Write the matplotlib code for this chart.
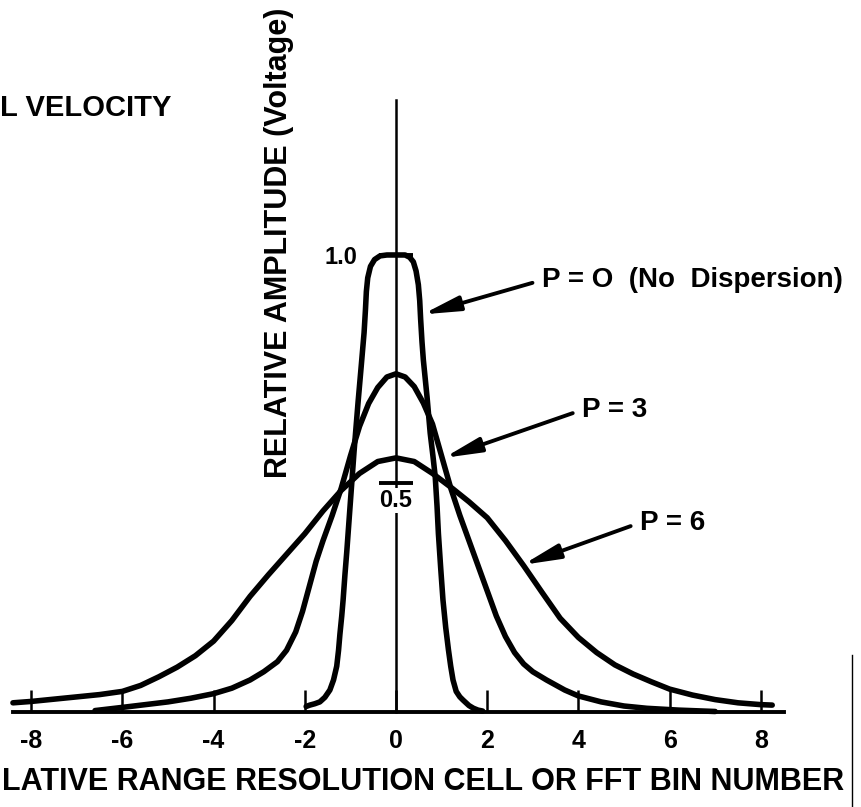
import matplotlib
matplotlib.use("Agg")
import matplotlib.pyplot as plt

# -----------------------------------------
# DATA
# -----------------------------------------

# P = 0 (no dispersion)
p0_x = [-1.97, -1.89, -1.78, -1.67, -1.56, -1.45, -1.37, -1.3, -1.26, -1.23, -1.19,
        -1.16, -1.12, -1.08, -1.04, -1.0, -0.92, -0.83, -0.76, -0.7, -0.67, -0.65,
        -0.62, -0.56, -0.47, -0.35, -0.2, 0.0, 0.2, 0.3, 0.38, 0.44, 0.49, 0.52,
        0.54, 0.57, 0.6, 0.68, 0.75, 0.81, 0.86, 0.9, 0.93, 0.98, 1.03, 1.09, 1.15,
        1.2, 1.25, 1.32, 1.4, 1.47, 1.6, 1.7, 1.8, 1.9]
p0_y = [0.012, 0.015, 0.018, 0.022, 0.032, 0.048, 0.07, 0.1, 0.135, 0.17, 0.21,
        0.245, 0.3, 0.35, 0.405, 0.46, 0.57, 0.68, 0.76, 0.83, 0.88, 0.92,
        0.95, 0.975, 0.99, 0.998, 1.0, 1.0, 1.0, 0.995, 0.985, 0.965, 0.935, 0.9,
        0.86, 0.81, 0.77, 0.69, 0.61, 0.56, 0.515, 0.45, 0.39, 0.315, 0.245, 0.185, 0.136,
        0.1, 0.07, 0.045, 0.033, 0.026, 0.014, 0.008, 0.004, 0.002]

# P = 3
p3_x = [-6.6, -6.0, -5.5, -5.0, -4.5, -4.0, -3.6, -3.2, -2.9, -2.6, -2.4, -2.2, -2.05,
        -1.9, -1.75, -1.6, -1.4, -1.2, -1.0, -0.8, -0.6, -0.4, -0.2, 0.0, 0.2, 0.4,
        0.6, 0.8, 1.0, 1.2, 1.4, 1.6, 1.8, 2.0, 2.2, 2.4, 2.6, 2.8, 3.0, 3.3, 3.7,
        4.0, 4.5, 5.0, 5.5, 6.2, 7.0]
p3_y = [0.003, 0.01, 0.016, 0.022, 0.03, 0.04, 0.052, 0.07, 0.088, 0.11, 0.135, 0.175, 0.22,
        0.275, 0.33, 0.375, 0.43, 0.49, 0.56, 0.625, 0.675, 0.71, 0.733, 0.74, 0.733, 0.712,
        0.676, 0.63, 0.56, 0.49, 0.43, 0.375, 0.32, 0.265, 0.21, 0.165, 0.13, 0.105, 0.088,
        0.07, 0.048, 0.035, 0.022, 0.013, 0.008, 0.004, 0.001]

# P = 6
p6_x = [-8.4, -8.0, -7.5, -7.0, -6.5, -6.0, -5.6, -5.2, -4.8, -4.4, -4.0, -3.6, -3.2,
        -2.8, -2.4, -2.0, -1.6, -1.2, -0.8, -0.4, 0.0, 0.4, 0.8, 1.2, 1.6, 2.0, 2.4,
        2.8, 3.2, 3.6, 4.0, 4.4, 4.8, 5.2, 5.6, 6.0, 6.5, 7.0, 7.5, 8.0, 8.25]
p6_y = [0.02, 0.023, 0.028, 0.033, 0.038, 0.045, 0.058, 0.077, 0.098, 0.123, 0.155, 0.2,
        0.253, 0.3, 0.345, 0.39, 0.44, 0.485, 0.522, 0.548, 0.556, 0.548, 0.522, 0.492,
        0.46, 0.425, 0.375, 0.32, 0.262, 0.205, 0.163, 0.13, 0.103, 0.083, 0.066, 0.05,
        0.037, 0.027, 0.02, 0.016, 0.015]

curve_labels = ["P = O  (No  Dispersion)", "P = 3", "P = 6"]

x_ticks = [-8, -6, -4, -2, 0, 2, 4, 6, 8]
x_tick_labels = ["-8", "-6", "-4", "-2", "0", "2", "4", "6", "8"]
y_ticks = [0.5, 1.0]

# -----------------------------------------
# FIGURE
# -----------------------------------------

plt.rcParams["font.family"] = ["Liberation Sans", "DejaVu Sans"]
plt.rcParams["font.weight"] = "bold"

fig = plt.figure(figsize=(8.61, 8.07), dpi=100)
ax = fig.add_axes([0, 0, 1, 1])
ax.set_xlim(-8.684, 10.197)
ax.set_ylim(-0.208, 1.558)

line_kw = dict(color="black", lw=4.0, solid_capstyle="round", solid_joinstyle="round")
ax.plot(p0_x, p0_y, **line_kw)
ax.plot(p3_x, p3_y, **line_kw)
ax.plot(p6_x, p6_y, **line_kw)

# -----------------------------------------
# AXES THROUGH THE ORIGIN
# -----------------------------------------

for side in ["top", "right"]:
    ax.spines[side].set_visible(False)
ax.spines["left"].set_position(("data", 0))
ax.spines["bottom"].set_position(("data", 0))
ax.spines["left"].set_bounds(0, 1.34)
ax.spines["bottom"].set_bounds(-8.4, 8.5)
ax.spines["left"].set_linewidth(1.8)
ax.spines["bottom"].set_linewidth(2.8)

ax.set_xticks(x_ticks, x_tick_labels, fontsize=18, fontweight="bold")
ax.tick_params(axis="x", direction="in", length=16, width=1.8, pad=12)

ax.set_yticks(y_ticks, ["", "1.0"], fontsize=17, fontweight="bold")
ax.tick_params(axis="y", direction="inout", length=24, width=2.8, pad=16)

ax.annotate("0.5", xy=(0, 0.5), xytext=(0, -4), textcoords="offset points",
            ha="center", va="top", fontsize=17, fontweight="bold",
            bbox=dict(facecolor="white", edgecolor="none", pad=0.5))

ax.set_xlabel("LATIVE RANGE RESOLUTION CELL OR FFT BIN NUMBER", fontsize=22,
              fontweight="bold", ha="left", va="center")
ax.xaxis.set_label_coords(0.002, 0.031)

ax.set_ylabel("RELATIVE AMPLITUDE (Voltage)", fontsize=22, fontweight="bold",
              ha="center", va="center")
ax.yaxis.set_label_coords(0.324, 0.699)

ax.text(0.0, 0.866, "L VELOCITY", transform=ax.transAxes, ha="left", va="center",
        fontsize=21, fontweight="bold")

# -----------------------------------------
# CURVE CALLOUTS
# -----------------------------------------

arrow_kw = dict(arrowstyle="-|>,head_length=1.1,head_width=0.22", mutation_scale=20,
                color="black", lw=2.8, relpos=(0, 0.5), shrinkA=5, shrinkB=0)

ax.annotate(curve_labels[0], xy=(0.58, 0.87), xytext=(3.2, 0.945), ha="left", va="center",
            fontsize=20, fontweight="bold", arrowprops=arrow_kw)
ax.annotate(curve_labels[1], xy=(1.05, 0.556), xytext=(4.08, 0.661), ha="left", va="center",
            fontsize=20, fontweight="bold", arrowprops=arrow_kw)
ax.annotate(curve_labels[2], xy=(2.78, 0.322), xytext=(5.35, 0.414), ha="left", va="center",
            fontsize=20, fontweight="bold", arrowprops=arrow_kw)

# scan edge on the right
ax.axvline((852 - 396) / 45.6, ymin=0, ymax=0.188, color="black", lw=1.0)

fig.savefig("out.png", dpi=100)
